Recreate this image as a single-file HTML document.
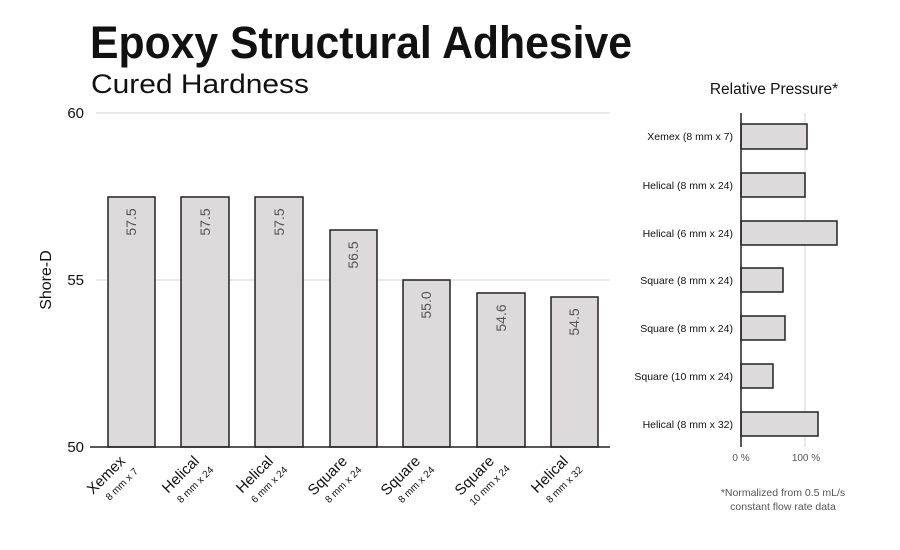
<!DOCTYPE html>
<html><head><meta charset="utf-8"><style>
html,body{margin:0;padding:0;background:#fff;}
svg{display:block;font-family:"Liberation Sans",sans-serif;}
</style></head><body>
<svg width="900" height="550" viewBox="0 0 900 550" xmlns="http://www.w3.org/2000/svg">
<text x="90" y="58" font-size="45" font-weight="bold" fill="#111" textLength="542" lengthAdjust="spacingAndGlyphs">Epoxy Structural Adhesive</text>
<text x="91" y="93" font-size="27" fill="#111" textLength="218" lengthAdjust="spacingAndGlyphs">Cured Hardness</text>
<line x1="96" y1="113" x2="610" y2="113" stroke="#e4e4e4" stroke-width="1.5"/>
<line x1="96" y1="280" x2="610" y2="280" stroke="#e4e4e4" stroke-width="1.5"/>
<g font-size="15" fill="#111" text-anchor="end">
<text x="84" y="118">60</text><text x="84" y="285">55</text><text x="84" y="452">50</text>
</g>
<text transform="translate(51,280) rotate(-90)" font-size="16" text-anchor="middle" fill="#111">Shore-D</text>
<g fill="#dcdadb" stroke="#222" stroke-width="1.5">
<rect x="108" y="197" width="47" height="250"/>
<rect x="181" y="197" width="48" height="250"/>
<rect x="255" y="197" width="48" height="250"/>
<rect x="330" y="230" width="47" height="217"/>
<rect x="403" y="280" width="47" height="167"/>
<rect x="477" y="293" width="48" height="154"/>
<rect x="551" y="297" width="47" height="150"/>
</g>
<line x1="90" y1="447" x2="610" y2="447" stroke="#222" stroke-width="1.5"/>
<g font-size="14" fill="#555" text-anchor="middle">
<text transform="translate(136,222) rotate(-90)">57.5</text>
<text transform="translate(210,222) rotate(-90)">57.5</text>
<text transform="translate(284,222) rotate(-90)">57.5</text>
<text transform="translate(358,255) rotate(-90)">56.5</text>
<text transform="translate(431,305) rotate(-90)">55.0</text>
<text transform="translate(506,318) rotate(-90)">54.6</text>
<text transform="translate(579,322) rotate(-90)">54.5</text>
</g>
<g fill="#111" text-anchor="end">
<g transform="translate(126,462) rotate(-45)"><text font-size="15">Xemex</text><text x="2" y="16" font-size="10">8 mm x 7</text></g>
<g transform="translate(200,462) rotate(-45)"><text font-size="15">Helical</text><text x="4" y="16" font-size="10">8 mm x 24</text></g>
<g transform="translate(274,462) rotate(-45)"><text font-size="15">Helical</text><text x="4" y="16" font-size="10">6 mm x 24</text></g>
<g transform="translate(348,462) rotate(-45)"><text font-size="15">Square</text><text x="4" y="16" font-size="10">8 mm x 24</text></g>
<g transform="translate(421,462) rotate(-45)"><text font-size="15">Square</text><text x="4" y="16" font-size="10">8 mm x 24</text></g>
<g transform="translate(495,462) rotate(-45)"><text font-size="15">Square</text><text x="6" y="16" font-size="10">10 mm x 24</text></g>
<g transform="translate(569,462) rotate(-45)"><text font-size="15">Helical</text><text x="4" y="16" font-size="10">8 mm x 32</text></g>
</g>
<text x="774" y="94" font-size="15.5" text-anchor="middle" fill="#111">Relative Pressure*</text>
<line x1="805" y1="113" x2="805" y2="447" stroke="#e4e4e4" stroke-width="1.5"/>
<g fill="#dcdadb" stroke="#222" stroke-width="1.5">
<rect x="741" y="124" width="66" height="25"/>
<rect x="741" y="173" width="64" height="24"/>
<rect x="741" y="221" width="96" height="24"/>
<rect x="741" y="268" width="42" height="24"/>
<rect x="741" y="316" width="44" height="24"/>
<rect x="741" y="364" width="32" height="24"/>
<rect x="741" y="412" width="77" height="24"/>
</g>
<line x1="741" y1="113" x2="741" y2="447" stroke="#222" stroke-width="1.5"/>
<g font-size="10.5" fill="#111" text-anchor="end">
<text x="733" y="140">Xemex (8 mm x 7)</text>
<text x="733" y="189">Helical (8 mm x 24)</text>
<text x="733" y="237">Helical (6 mm x 24)</text>
<text x="733" y="284">Square (8 mm x 24)</text>
<text x="733" y="332">Square (8 mm x 24)</text>
<text x="733" y="380">Square (10 mm x 24)</text>
<text x="733" y="428">Helical (8 mm x 32)</text>
</g>
<g font-size="10" fill="#555" text-anchor="middle">
<text x="741" y="461">0 %</text><text x="806" y="461">100 %</text>
</g>
<g font-size="10.5" fill="#555" text-anchor="middle">
<text x="783" y="496">*Normalized from 0.5 mL/s</text>
<text x="783" y="510">constant flow rate data</text>
</g>
</svg>
</body></html>
